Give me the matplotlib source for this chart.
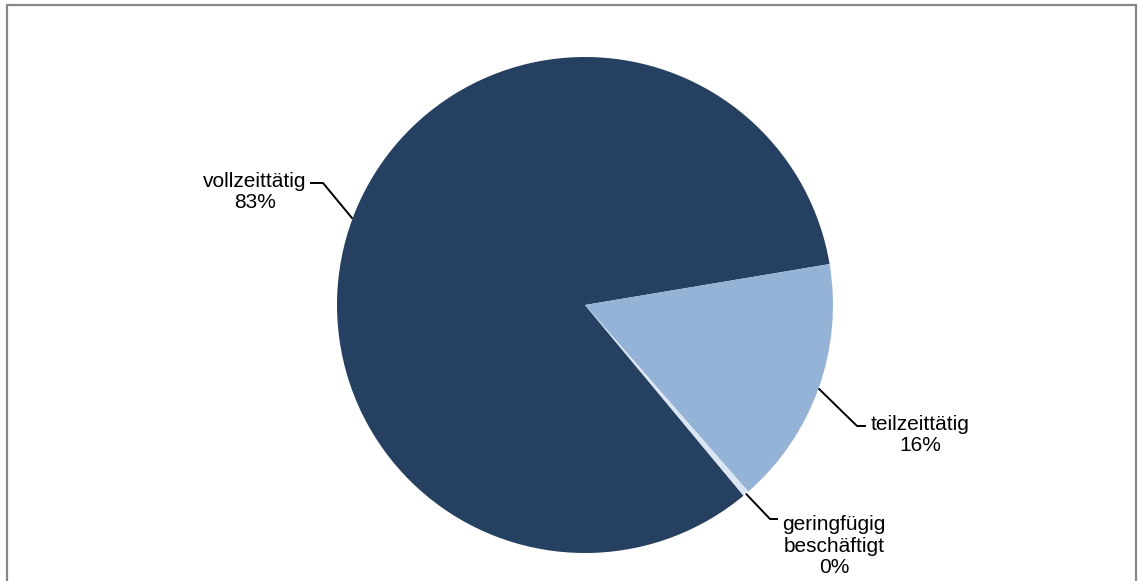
import numpy as np
import matplotlib
matplotlib.use("Agg")
import matplotlib.pyplot as plt
from matplotlib.patches import Rectangle

# data (percent of employees)
labels = ["vollzeittätig", "teilzeittätig", "geringfügig\nbeschäftigt"]
values = [83.4, 16.2, 0.4]
colors = ["#264061", "#95b3d7", "#dce6f2"]

# label placement in pixels (image coords, y down): text centre, elbow, line end
text_pos = [(255, 192), (920, 435), (834, 546)]
elbow = [(323, 183), (857, 426), (770, 519)]
line_end = [(310, 183), (866, 426), (778, 519)]

W, H = 1138, 581
plt.rcParams['font.family'] = ['Liberation Sans', 'DejaVu Sans']

fig = plt.figure(figsize=(W / 100, H / 100), dpi=100)
ax = fig.add_axes([0, 0, 1, 1])

cx, cy, r = 585, H - 305, 248
total = sum(values)
wedges, _ = ax.pie(values, colors=colors, center=(cx, cy), radius=r,
                   startangle=9.5 + 360 * values[0] / total, counterclock=False,
                   wedgeprops=dict(linewidth=0))

for i, w in enumerate(wedges):
    mid = np.deg2rad((w.theta1 + w.theta2) / 2)
    x0, y0 = cx + r * np.cos(mid), cy + r * np.sin(mid)
    ex, ey = elbow[i][0], H - elbow[i][1]
    lx, ly = line_end[i][0], H - line_end[i][1]
    ax.plot([x0, ex, lx], [y0, ey, ly], color="black", lw=1.4, solid_capstyle="butt")
    pct = "%d%%" % int(round(values[i] / total * 100 - 0.001))
    ax.text(text_pos[i][0], H - text_pos[i][1], labels[i] + "\n" + pct,
            ha="center", va="center", fontsize=15, linespacing=1.17, color="black")

ax.add_patch(Rectangle((7, -10), 1129, H - 5 + 10, fill=False,
                       edgecolor="#878787", lw=1.6, clip_on=False))

ax.set_xlim(0, W)
ax.set_ylim(0, H)
ax.set_aspect("equal")
ax.axis("off")

fig.savefig("out.png", dpi=100)
